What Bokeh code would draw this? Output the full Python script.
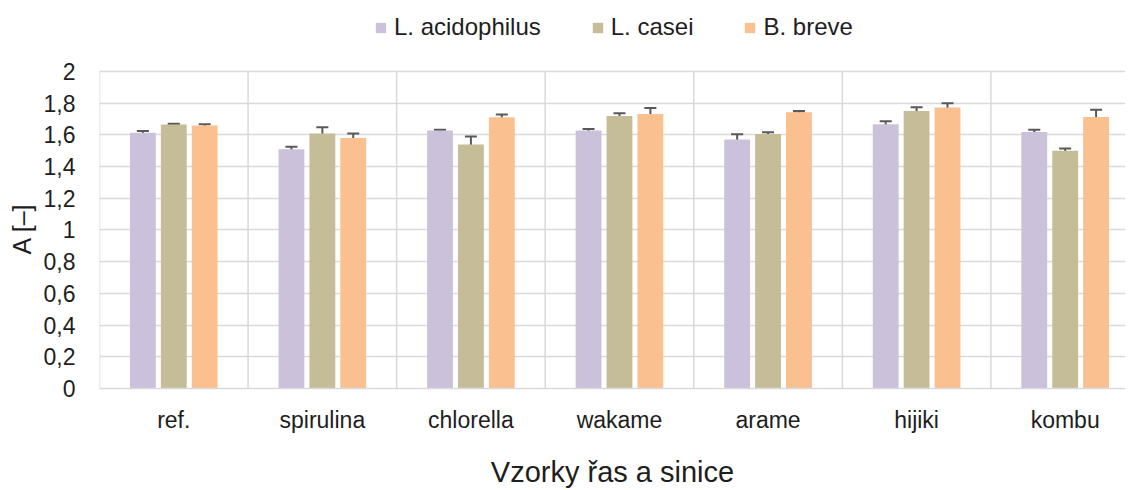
from bokeh.plotting import figure
from bokeh.models import (ColumnDataSource, Range1d, FixedTicker, Whisker, TeeHead,
                          Legend, LegendItem, Title)
from bokeh.embed import file_html
from bokeh.resources import INLINE

# ---- data -------------------------------------------------------------
categories = ["ref.", "spirulina", "chlorella", "wakame", "arame", "hijiki", "kombu"]
series_names = ["L. acidophilus", "L. casei", "B. breve"]
acidophilus = [1.612, 1.509, 1.627, 1.627, 1.570, 1.667, 1.618]
acidophilus_err = [0.012, 0.015, 0.004, 0.010, 0.033, 0.018, 0.013]
casei = [1.665, 1.608, 1.539, 1.719, 1.604, 1.750, 1.499]
casei_err = [0.004, 0.040, 0.050, 0.016, 0.012, 0.024, 0.014]
breve = [1.658, 1.580, 1.711, 1.731, 1.742, 1.772, 1.712]
breve_err = [0.009, 0.028, 0.016, 0.038, 0.008, 0.027, 0.046]
y_ticks = [0, 0.2, 0.4, 0.6, 0.8, 1.0, 1.2, 1.4, 1.6, 1.8, 2.0]
y_tick_labels = ["0", "0,2", "0,4", "0,6", "0,8", "1", "1,2", "1,4", "1,6", "1,8", "2"]
colors = ["#ccc1da", "#c4bd97", "#fac090"]

FONT = "Liberation Sans"
TXT = "#1e1e1e"
GRID = "#d9d9d9"

# layout: plot frame reaches the top of the canvas so the legend can sit inside it
W, H = 1125, 490
BORDER_L = 96
FRAME_H = 389          # px from canvas top to the zero line
PLOT_H = 318           # px between 0 and the top tick
CAT_PX = 149           # px per category
y_top = y_ticks[-1] * FRAME_H / PLOT_H
x_end = (W - BORDER_L) / CAT_PX

p = figure(width=W, height=H, output_backend="svg", toolbar_location=None,
           x_range=Range1d(0, x_end), y_range=Range1d(0, y_top),
           min_border_left=BORDER_L, min_border_right=0, min_border_top=0,
           min_border_bottom=H - FRAME_H)
p.outline_line_color = None
p.background_fill_color = "white"

# category separators (vertical gridlines between groups, up to the top tick)
bounds = list(range(len(categories) + 1))
p.segment(x0=bounds, y0=[y_ticks[0]] * len(bounds), x1=bounds, y1=[y_ticks[-1]] * len(bounds),
          line_color=GRID, line_width=1.5)

offsets = [-0.208, 0.0, 0.208]
bar_w = 0.174
renderers = []
for vals, errs, off, col in zip([acidophilus, casei, breve],
                                [acidophilus_err, casei_err, breve_err],
                                offsets, colors):
    xs = [i + 0.5 + off for i in range(len(categories))]
    src = ColumnDataSource(dict(x=xs, top=vals,
                                upper=[v + e for v, e in zip(vals, errs)],
                                lower=[v - e for v, e in zip(vals, errs)]))
    r = p.vbar(x="x", top="top", width=bar_w, source=src, fill_color=col,
               line_color=None)
    renderers.append(r)
    w = Whisker(base="x", upper="upper", lower="lower", source=src,
                line_color="#595959", line_width=2,
                upper_head=TeeHead(size=12, line_color="#595959", line_width=2),
                lower_head=TeeHead(size=12, line_color="#595959", line_width=2))
    p.add_layout(w)

# ---- axes -------------------------------------------------------------
xa = p.xaxis[0]
xa.ticker = FixedTicker(ticks=[i + 0.5 for i in range(len(categories))])
xa.major_label_overrides = {i + 0.5: c for i, c in enumerate(categories)}
xa.major_tick_line_color = None
xa.minor_tick_line_color = None
xa.axis_line_color = GRID
xa.axis_line_width = 1.5
xa.major_label_text_font = FONT
xa.major_label_text_font_size = "23px"
xa.major_label_text_color = TXT
xa.major_label_standoff = 12
xa.axis_label = "Vzorky řas a sinice"
xa.axis_label_text_font = FONT
xa.axis_label_text_font_size = "29px"
xa.axis_label_text_font_style = "normal"
xa.axis_label_text_color = TXT
xa.axis_label_standoff = 20

ya = p.yaxis[0]
ya.ticker = FixedTicker(ticks=y_ticks)
ya.major_label_overrides = {t: l for t, l in zip(y_ticks, y_tick_labels)}
ya.major_tick_line_color = None
ya.minor_tick_line_color = None
ya.axis_line_color = None
ya.major_label_text_font = FONT
ya.major_label_text_font_size = "23px"
ya.major_label_text_color = TXT
ya.major_label_standoff = 18

p.xgrid.visible = False
p.ygrid.ticker = FixedTicker(ticks=y_ticks)
p.ygrid.grid_line_color = GRID
p.ygrid.grid_line_width = 1.5

# y-axis title, centred on the 0..2 part of the axis
ytitle = Title(text="A [–]", align="left", offset=134, standoff=10,
               text_font=FONT, text_font_size="25px", text_font_style="normal",
               text_color=TXT)
p.add_layout(ytitle, "left")

# ---- legend (location = bottom-left corner, px from frame bottom-left) ----
legend = Legend(items=[LegendItem(label=n, renderers=[r]) for n, r in zip(series_names, renderers)],
                orientation="horizontal", location=(275, 347),
                glyph_width=13, glyph_height=13, label_standoff=7, spacing=50,
                padding=0, margin=0, border_line_color=None,
                background_fill_alpha=0,
                label_text_font=FONT, label_text_font_size="24px",
                label_text_color=TXT)
p.add_layout(legend, "center")

open("out.html", "w").write(file_html(p, INLINE))
